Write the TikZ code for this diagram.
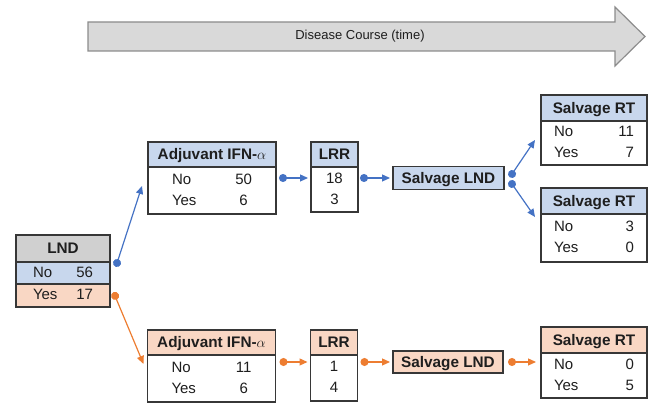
\documentclass[tikz,border=0pt]{standalone}
\usepackage{fontspec}
\setmainfont{Liberation Sans}
\usepackage{tikz}
\usetikzlibrary{positioning}
\usetikzlibrary{arrows.meta}
\definecolor{hdblue}{RGB}{200,215,237}
\definecolor{hdpeach}{RGB}{249,215,196}
\definecolor{hdgray}{RGB}{208,208,208}
\definecolor{linkblue}{RGB}{68,114,196}
\definecolor{linkorange}{RGB}{237,125,49}
\definecolor{boxline}{RGB}{55,55,55}
\definecolor{arrowgray}{RGB}{217,217,217}
\definecolor{arrowline}{RGB}{140,140,140}
\definecolor{txt}{RGB}{30,30,30}
\tikzstyle{head} = [rectangle, draw=boxline, line width=1.2pt, outer sep=0pt, inner sep=0pt,
                text=txt, font=\bfseries\fontsize{15.3}{18}\selectfont, text height=10.8pt, text depth=0pt]
\tikzstyle{tally} = [rectangle, draw=boxline, fill=white, line width=1.2pt, outer sep=0pt,
                inner sep=0pt, text=txt, font=\fontsize{15}{21}\selectfont]
\tikzstyle{bluelink} = [draw=linkblue, line width=1.2pt, {Circle[length=8pt]}-{Triangle[length=8pt,width=7pt]}]
\tikzstyle{orangelink} = [draw=linkorange, line width=1.2pt, {Circle[length=8pt]}-{Triangle[length=8pt,width=7pt]}]
\newcommand{\noyes}[4][r]{\begin{tabular*}{#2}{@{}l@{\extracolsep{\fill}}#1@{}}No & #3\\ Yes & #4\end{tabular*}}
\newcommand{\pair}[2]{\begin{tabular*}{60pt}{@{}l@{\extracolsep{\fill}}r@{}}#1 & #2\end{tabular*}}

\begin{document}
\begin{tikzpicture}[x=1pt,y=1pt]
        \useasboundingbox (0,0) rectangle (649,403);
        % time arrow
        \draw[fill=arrowgray, draw=arrowline, line width=1.2pt] (88,352) -- (615,352) -- (615,337) -- (645,366.5)
            -- (615,396) -- (615,381) -- (88,381) -- cycle;
        \node[text=txt, font=\fontsize{13}{15}\selectfont](course) at (360,366.5){Disease Course (time)};
        % LND
        \node[head, fill=hdgray, minimum width=94pt, minimum height=27pt](lnd) at (63,154.5){LND};
        \node[tally, fill=hdblue, minimum width=94pt, minimum height=22pt, below=0pt of lnd](lndno){\pair{No}{56}};
        \node[tally, fill=hdpeach, minimum width=94pt, minimum height=23pt, below=0pt of lndno](lndyes){\pair{Yes}{17}};
        % upper branch
        \node[head, fill=hdblue, minimum width=128pt, minimum height=25pt](adjtop) at (212,248.5){Adjuvant IFN-$\alpha$};
        \node[tally, minimum width=128pt, minimum height=47pt, below=0pt of adjtop](adjtopbody){\noyes[c]{80pt}{50}{6}};
        \node[head, fill=hdblue, minimum width=47pt, minimum height=25pt, right=35pt of adjtop](lrrtop){LRR};
        \node[tally, minimum width=47pt, minimum height=45pt, below=0pt of lrrtop](lrrtopbody){\begin{tabular}{@{}c@{}}18\\3\end{tabular}};
        \node[head, fill=hdblue, minimum width=111pt, minimum height=23pt](slndtop) at (448.5,225){Salvage LND};
        \node[head, fill=hdblue, minimum width=106pt, minimum height=26pt](rttop) at (594,295){Salvage RT};
        \node[tally, minimum width=106pt, minimum height=44pt, below=0pt of rttop](rttopbody){\noyes{80pt}{11}{7}};
        \node[head, fill=hdblue, minimum width=106pt, minimum height=26pt, below=23pt of rttopbody](rtmid){Salvage RT};
        \node[tally, minimum width=106pt, minimum height=48pt, below=0pt of rtmid](rtmidbody){\noyes{80pt}{3}{0}};
        % lower branch
        \node[head, fill=hdpeach, minimum width=128pt, minimum height=25pt](adjbot) at (211.5,60.5){Adjuvant IFN-$\alpha$};
        \node[tally, minimum width=128pt, minimum height=47pt, below=0pt of adjbot](adjbotbody){\noyes[c]{80pt}{11}{6}};
        \node[head, fill=hdpeach, minimum width=47pt, minimum height=25pt, right=35pt of adjbot](lrrbot){LRR};
        \node[tally, minimum width=47pt, minimum height=46pt, below=0pt of lrrbot](lrrbotbody){\begin{tabular}{@{}c@{}}1\\4\end{tabular}};
        \node[head, fill=hdpeach, minimum width=110pt, minimum height=22pt](slndbot) at (448,41){Salvage LND};
        \node[head, fill=hdpeach, minimum width=106pt, minimum height=26pt](rtbot) at (594,63){Salvage RT};
        \node[tally, minimum width=106pt, minimum height=45pt, below=0pt of rtbot](rtbotbody){\noyes{80pt}{0}{5}};
        % links
        \path[bluelink] ([shift={(5.8pt,-4.8pt)}]lndno.north east) -- ([shift={(-6pt,4.5pt)}]adjtopbody.west);
        \path[bluelink] ([shift={(3pt,-11pt)}]adjtopbody.north east) -- ([shift={(-3pt,-11pt)}]lrrtopbody.north west);
        \path[bluelink] ([shift={(2pt,-11pt)}]lrrtopbody.north east) -- ([xshift=-3pt]slndtop.west);
        \path[bluelink] ([shift={(5.8pt,0.7pt)}]slndtop.east) -- ([shift={(-6pt,3pt)}]rttopbody.west);
        \path[bluelink] ([shift={(5.7pt,-2.7pt)}]slndtop.east) -- ([shift={(-6pt,-3pt)}]rtmidbody.north west);
        \path[orangelink] ([shift={(3.5pt,3.2pt)}]lndyes.east) -- ([shift={(-4pt,-9pt)}]adjbotbody.north west);
        \path[orangelink] ([shift={(4pt,-7pt)}]adjbotbody.north east) -- ([shift={(-3pt,-7pt)}]lrrbotbody.north west);
        \path[orangelink] ([shift={(3pt,-7pt)}]lrrbotbody.north east) -- ([xshift=-3pt]slndbot.west);
        \path[orangelink] ([xshift=5pt]slndbot.east) -- ([shift={(-5pt,-9pt)}]rtbotbody.north west);
    \end{tikzpicture}
\end{document}
